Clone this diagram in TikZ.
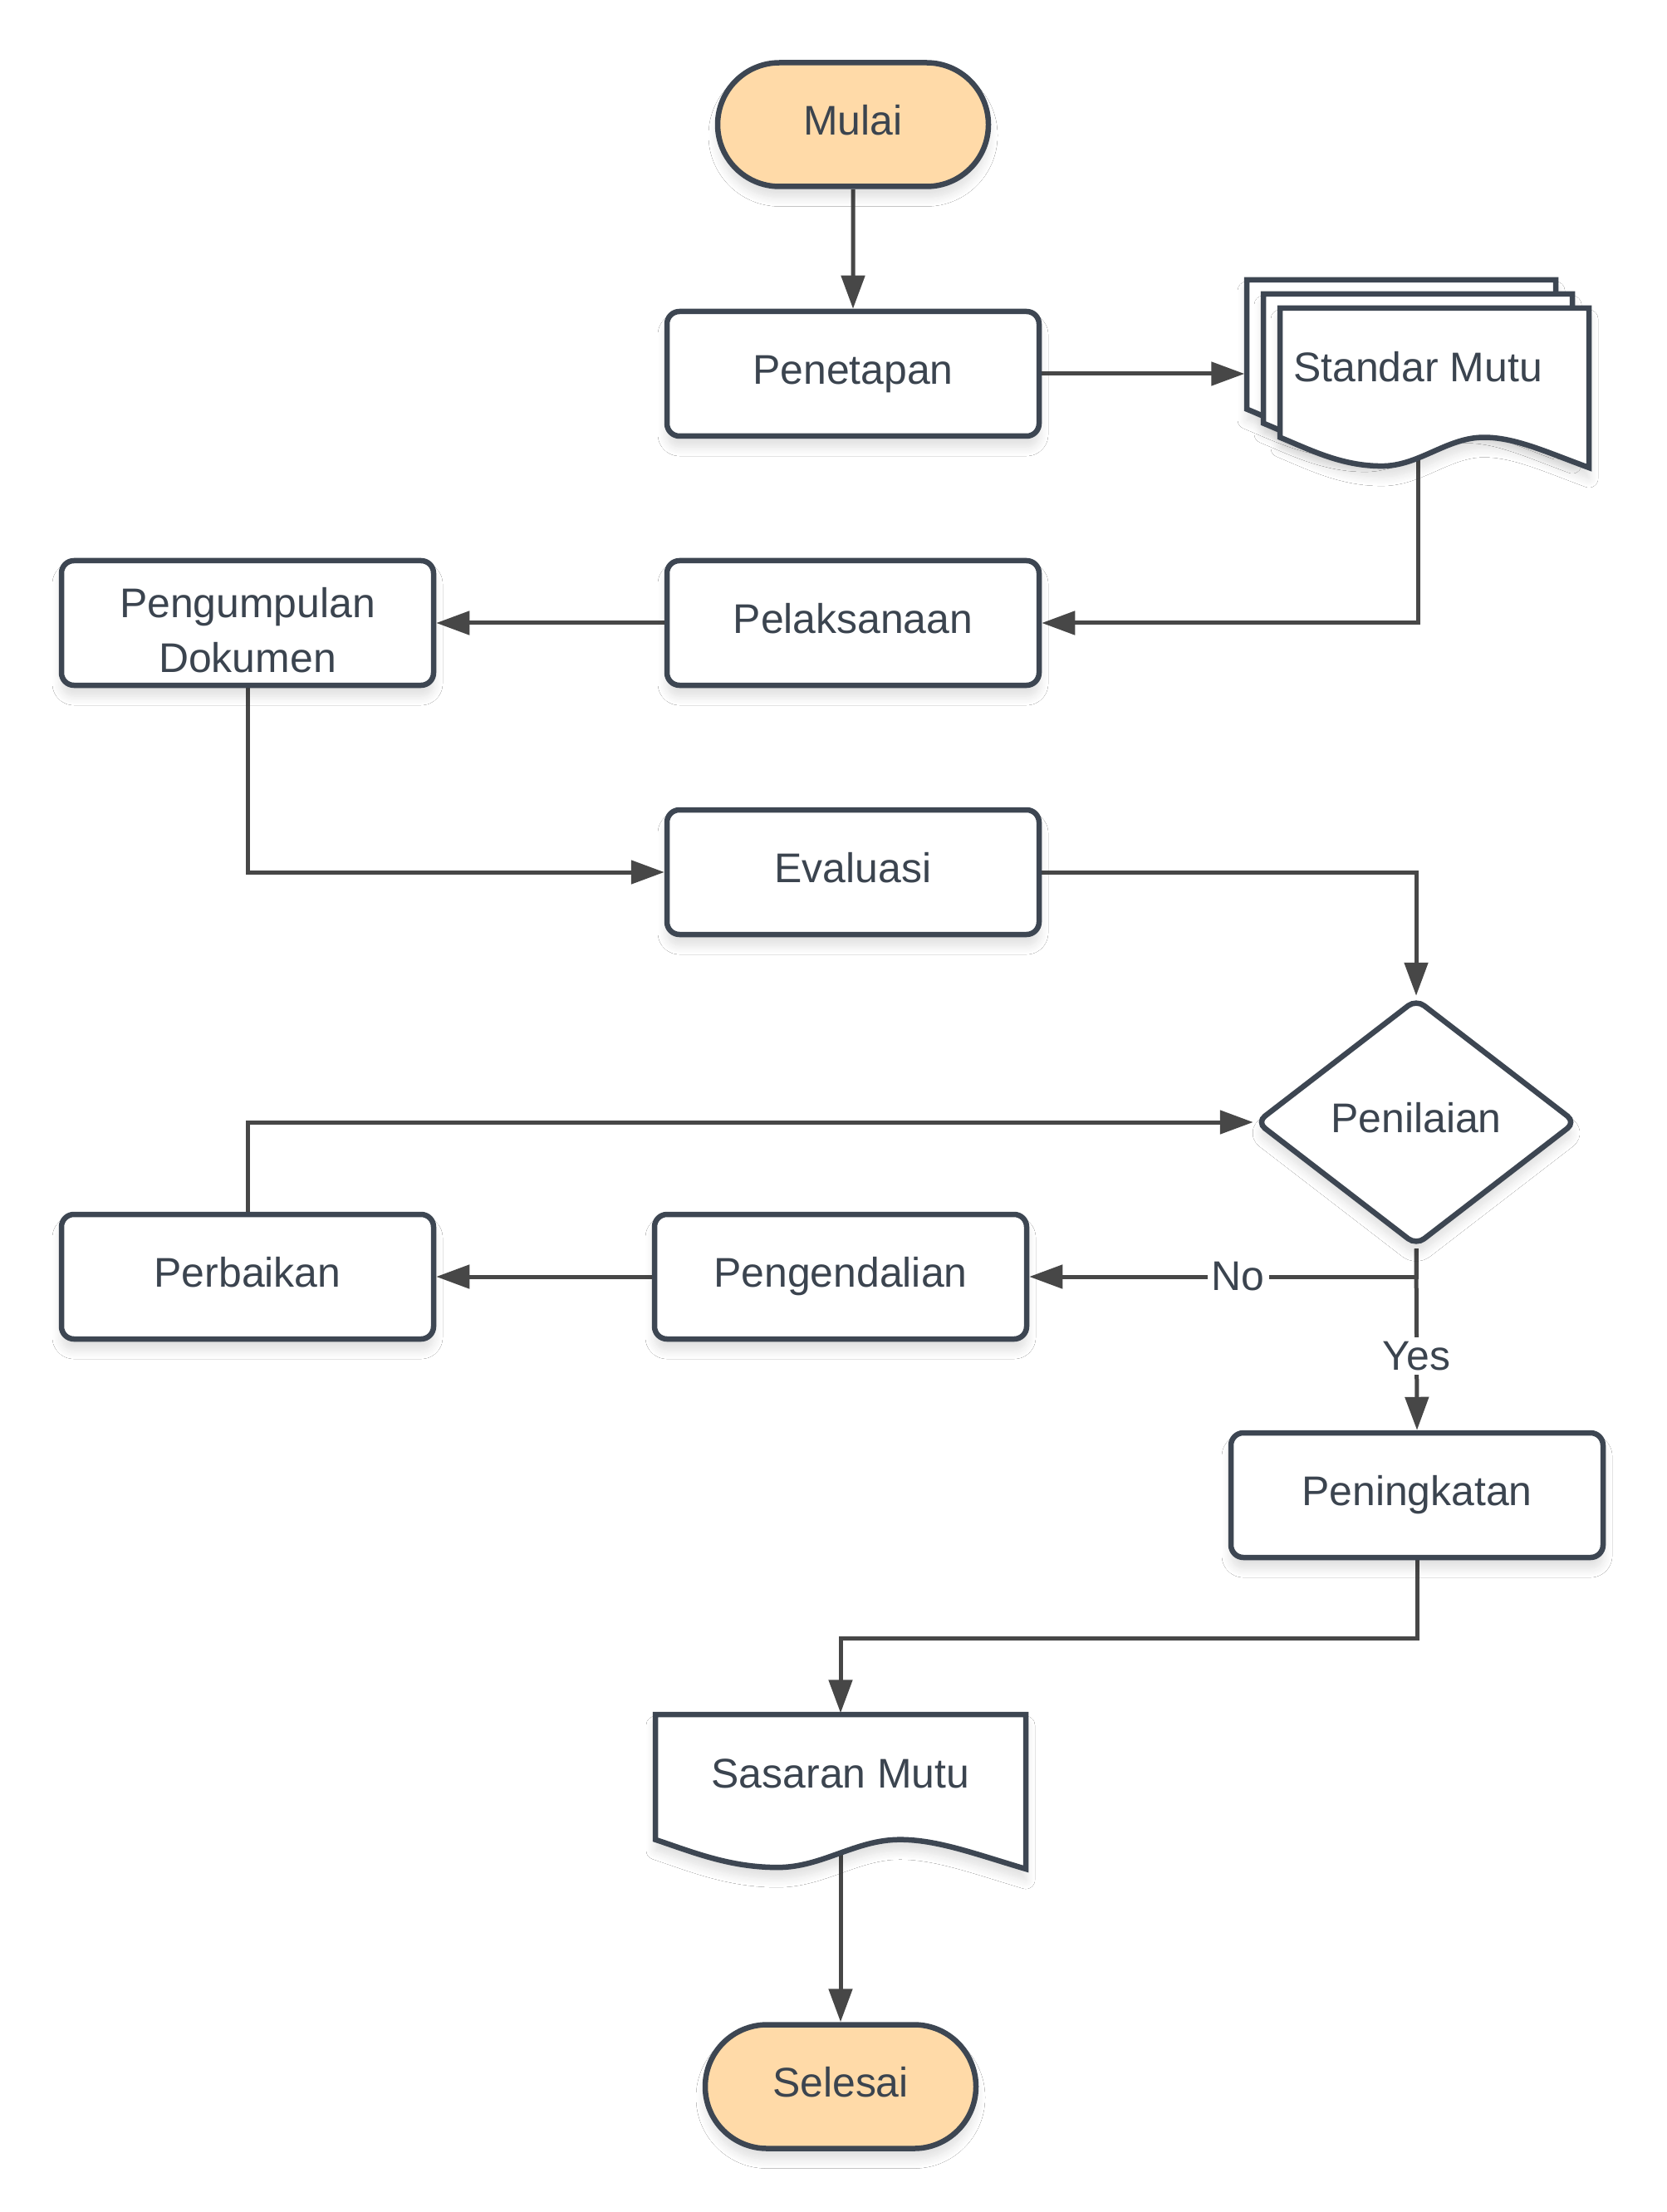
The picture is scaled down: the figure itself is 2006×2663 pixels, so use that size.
\documentclass[tikz,border=0pt]{standalone}
\usepackage{fontspec}
\setmainfont{Liberation Sans}
\usetikzlibrary{shapes.geometric,shapes.misc,arrows.meta,backgrounds,shadows.blur}

\definecolor{edge}{RGB}{61,70,82}
\definecolor{wire}{RGB}{71,71,71}
\definecolor{termfill}{RGB}{255,218,168}
\definecolor{ink}{RGB}{59,68,79}

\tikzset{
  softshadow/.style={blur shadow={shadow xshift=0mm, shadow yshift=-1.3mm,
      shadow blur radius=1.1mm, shadow opacity=13, shadow blur steps=10}},
  shapeline/.style={draw=edge, line width=0.65mm},
  nodetext/.style={text=ink, font=\fontsize{14.2pt}{18.8pt}\selectfont, align=center},
  oneline/.style={text height=10.2pt, text depth=3pt},
  proc/.style={shapeline, nodetext, fill=white, rounded corners=1.5mm,
      minimum width=44.8mm, minimum height=15mm, inner sep=0pt, softshadow},
  term/.style={shapeline, nodetext, oneline, fill=termfill, rounded rectangle,
      minimum width=32.6mm, minimum height=14.9mm, inner sep=0pt, softshadow},
  decision/.style={shapeline, nodetext, oneline, fill=white, diamond, rounded corners=1.2mm,
      minimum width=38.6mm, minimum height=29.8mm, inner sep=0pt, softshadow},
  doctext/.style={nodetext, inner sep=0pt},
  docsheet/.style={shapeline, fill=white, line join=miter, softshadow},
  flow/.style={draw=wire, line width=0.5mm, -{Triangle[length=4mm,width=2.8mm]}},
  branch/.style={nodetext, fill=white, inner sep=0.5mm},
}

% one document sheet: top-left corner (#1,#2), width #3, depth #4 at the right edge
\newcommand\docsheetat[4]{%
  \draw[docsheet] (#1,#2) -- ({#1+#3},#2) -- ({#1+#3},{#2+#4})
    .. controls ({#1+0.86*#3},{#2+0.9*#4}) and ({#1+0.76*#3},{#2+0.81*#4}) .. ({#1+0.66*#3},{#2+0.81*#4})
    .. controls ({#1+0.54*#3},{#2+0.81*#4}) and ({#1+0.45*#3},{#2+0.99*#4}) .. ({#1+0.33*#3},{#2+0.99*#4})
    .. controls ({#1+0.2*#3},{#2+0.99*#4}) and ({#1+0.1*#3},{#2+0.89*#4}) .. (#1,{#2+0.81*#4}) -- cycle;}

\begin{document}
\begin{tikzpicture}[x=0.1mm,y=-0.1mm]
\useasboundingbox (0,0) rectangle (2006,2663);

\node[term] (mulai) at (1027,150) {Mulai};
\node[proc, oneline] (penetapan) at (1027,450) {Penetapan};

% stacked documents
\docsheetat{1501}{337}{372}{192}
\docsheetat{1521}{354}{372}{192}
\docsheetat{1541}{371}{372}{192}
\node[doctext, minimum width=41.6mm, minimum height=14mm] (standar) at (1707,442) {Standar Mutu};

\node[proc, oneline] (pelaksanaan) at (1027,750) {Pelaksanaan};
\node[proc] (pengumpulan) at (298,750)
  {\raisebox{0pt}[18.23pt][21.77pt]{\begin{tabular}[t]{@{}c@{}}Pengumpulan\\Dokumen\end{tabular}}};
\node[proc, oneline] (evaluasi) at (1027,1050) {Evaluasi};
\node[decision] (penilaian) at (1705,1351) {Penilaian};
\node[proc, oneline] (perbaikan) at (298,1537) {Perbaikan};
\node[proc, oneline] (pengendalian) at (1012,1537) {Pengendalian};
\node[proc, oneline] (peningkatan) at (1706,1800) {Peningkatan};

\docsheetat{789}{2064}{446}{186}
\node[doctext, minimum width=44.6mm, minimum height=14.4mm] (sasaran) at (1012,2135) {Sasaran Mutu};

\node[term] (selesai) at (1012,2512) {Selesai};

\begin{pgfonlayer}{background}
  \fill[white] (0,0) rectangle (2006,2663);
  \draw[flow] (mulai) -- (penetapan);
  \draw[flow] (penetapan.east) -- (standar.west |- penetapan.east);
  \draw[flow] (standar.center) |- (pelaksanaan.east);
  \draw[flow] (pelaksanaan) -- (pengumpulan);
  \draw[flow] (pengumpulan.south) |- (evaluasi.west);
  \draw[flow] (evaluasi.east) -| (penilaian.north);
  \draw[flow] (perbaikan.north) |- (penilaian.west);
  \draw[flow] (penilaian.south) |- node[branch, pos=0.73] {No} (pengendalian.east);
  \draw[flow] (penilaian.south) -- node[branch, pos=0.59] {Yes} (peningkatan.north);
  \draw[flow] (pengendalian) -- (perbaikan);
  \draw[flow] (peningkatan.south) -- ++(0,94) -| (sasaran.north);
  \draw[flow] (sasaran.center) -- (selesai.north);
\end{pgfonlayer}
\end{tikzpicture}
\end{document}
